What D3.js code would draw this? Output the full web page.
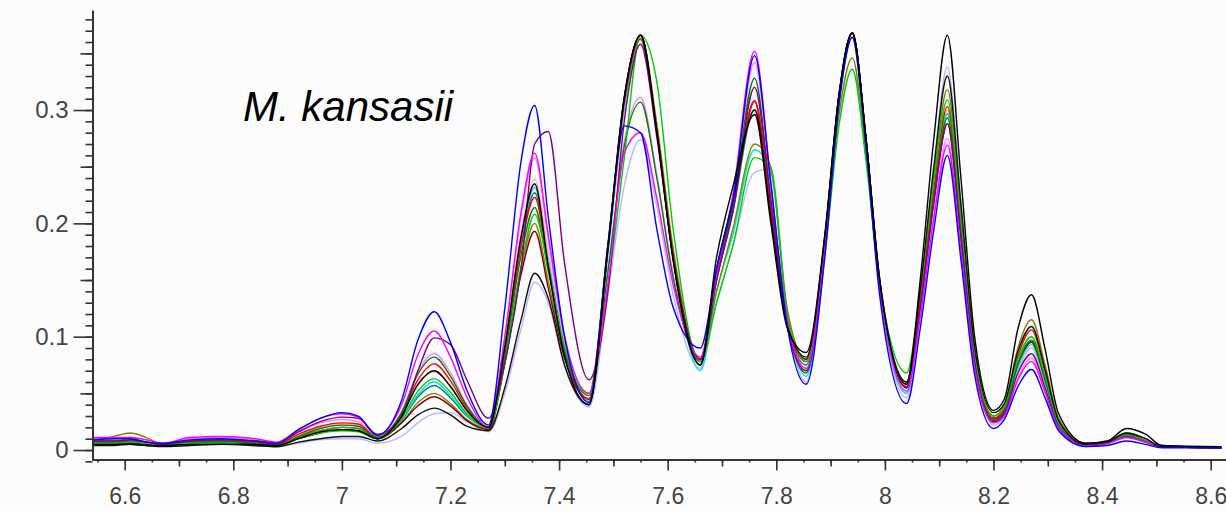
<!DOCTYPE html>
<html>
<head>
<meta charset="utf-8">
<script src="https://cdn.jsdelivr.net/npm/d3@7"></script>
<style>
  body { margin: 0; background: #fcfcfc; }
  svg { display: block; }
</style>
</head>
<body>
<div id="chart"></div>
<script>
// shared chemical shift grid (ppm)
var ppm = [6.54, 6.58, 6.61, 6.64, 6.67, 6.72, 6.78, 6.84, 6.88, 6.92, 6.96, 7.00, 7.03, 7.065,
  7.11, 7.14, 7.17, 7.20, 7.23, 7.27,
  7.30, 7.33, 7.355, 7.38, 7.41, 7.455,
  7.49, 7.52, 7.55, 7.58, 7.61, 7.66,
  7.69, 7.72, 7.76, 7.79, 7.82, 7.855,
  7.89, 7.915, 7.94, 7.965, 7.99, 8.04,
  8.065, 8.09, 8.115, 8.14, 8.165, 8.20,
  8.22, 8.245, 8.27, 8.295, 8.32, 8.37,
  8.41, 8.445, 8.48, 8.51, 8.62];

var lavender = [0.009,0.009,0.008,0.006,0.004,0.005,0.005,0.004,0.003,0.006,0.009,0.010,0.010,0.006,
  0.012,0.024,0.032,0.033,0.025,0.016,
  0.050,0.107,0.148,0.130,0.074,0.038,
  0.138,0.233,0.274,0.215,0.137,0.072,
  0.130,0.180,0.245,0.248,0.120,0.060,
  0.176,0.304,0.364,0.269,0.142,0.046,
  0.134,0.250,0.338,0.218,0.085,0.022,
  0.029,0.070,0.090,0.058,0.020,0.003,
  0.005,0.011,0.007,0.003,0.002];
var salmon = [0.008,0.008,0.008,0.007,0.005,0.008,0.009,0.007,0.005,0.013,0.020,0.023,0.022,0.011,
  0.030,0.057,0.069,0.056,0.034,0.020,
  0.093,0.192,0.239,0.175,0.096,0.050,
  0.184,0.312,0.366,0.282,0.172,0.080,
  0.160,0.220,0.320,0.220,0.115,0.080,
  0.190,0.311,0.368,0.276,0.153,0.060,
  0.132,0.228,0.300,0.197,0.082,0.028,
  0.036,0.079,0.100,0.066,0.024,0.005,
  0.007,0.013,0.008,0.003,0.002];
var violet = [0.010,0.010,0.011,0.009,0.006,0.010,0.011,0.009,0.006,0.016,0.024,0.027,0.025,0.012,
  0.034,0.069,0.085,0.068,0.040,0.020,
  0.099,0.206,0.258,0.186,0.096,0.045,
  0.158,0.272,0.311,0.243,0.155,0.080,
  0.155,0.220,0.342,0.230,0.115,0.070,
  0.184,0.309,0.368,0.273,0.146,0.050,
  0.118,0.208,0.275,0.180,0.074,0.024,
  0.030,0.064,0.081,0.053,0.019,0.004,
  0.006,0.012,0.008,0.004,0.002];
var teal = [0.007,0.006,0.006,0.006,0.005,0.006,0.007,0.005,0.003,0.011,0.017,0.020,0.019,0.011,
  0.026,0.047,0.057,0.046,0.030,0.020,
  0.089,0.182,0.227,0.166,0.089,0.045,
  0.181,0.311,0.366,0.281,0.169,0.075,
  0.150,0.210,0.300,0.215,0.110,0.075,
  0.187,0.310,0.368,0.275,0.149,0.055,
  0.128,0.224,0.297,0.194,0.081,0.027,
  0.034,0.076,0.096,0.062,0.023,0.005,
  0.007,0.013,0.008,0.003,0.002];
var cyan = [0.007,0.007,0.007,0.006,0.004,0.006,0.007,0.005,0.003,0.011,0.017,0.020,0.019,0.011,
  0.027,0.049,0.060,0.048,0.031,0.020,
  0.090,0.186,0.232,0.168,0.089,0.043,
  0.172,0.301,0.362,0.282,0.170,0.070,
  0.140,0.190,0.265,0.245,0.120,0.065,
  0.179,0.305,0.364,0.270,0.145,0.050,
  0.124,0.223,0.297,0.194,0.079,0.025,
  0.032,0.073,0.093,0.060,0.022,0.004,
  0.006,0.012,0.007,0.003,0.002];
var olive = [0.008,0.012,0.015,0.011,0.005,0.007,0.008,0.006,0.004,0.011,0.017,0.020,0.019,0.010,
  0.024,0.042,0.050,0.041,0.027,0.019,
  0.079,0.160,0.200,0.149,0.086,0.050,
  0.178,0.305,0.366,0.288,0.178,0.080,
  0.140,0.195,0.270,0.250,0.125,0.080,
  0.181,0.294,0.346,0.261,0.146,0.060,
  0.137,0.241,0.318,0.209,0.088,0.030,
  0.040,0.090,0.115,0.075,0.028,0.006,
  0.008,0.015,0.010,0.003,0.002];
var maroon = [0.006,0.006,0.006,0.005,0.004,0.006,0.006,0.005,0.004,0.010,0.015,0.018,0.017,0.010,
  0.024,0.039,0.047,0.039,0.026,0.018,
  0.076,0.155,0.193,0.143,0.081,0.045,
  0.181,0.311,0.366,0.282,0.171,0.078,
  0.155,0.215,0.308,0.210,0.110,0.080,
  0.190,0.311,0.368,0.276,0.151,0.058,
  0.127,0.219,0.288,0.189,0.080,0.028,
  0.035,0.076,0.095,0.062,0.023,0.005,
  0.007,0.014,0.008,0.003,0.002];
var red = [0.008,0.008,0.009,0.007,0.005,0.008,0.009,0.007,0.005,0.014,0.021,0.024,0.023,0.011,
  0.032,0.062,0.076,0.061,0.037,0.020,
  0.087,0.179,0.223,0.163,0.088,0.045,
  0.180,0.308,0.363,0.280,0.172,0.080,
  0.155,0.215,0.308,0.210,0.110,0.078,
  0.189,0.311,0.368,0.275,0.150,0.056,
  0.130,0.229,0.303,0.199,0.083,0.028,
  0.036,0.083,0.106,0.069,0.025,0.005,
  0.007,0.014,0.008,0.003,0.002];
var darkgreen = [0.007,0.007,0.008,0.007,0.005,0.007,0.008,0.006,0.004,0.012,0.019,0.022,0.021,0.011,
  0.033,0.067,0.082,0.065,0.039,0.020,
  0.084,0.172,0.214,0.158,0.088,0.048,
  0.158,0.268,0.307,0.240,0.152,0.078,
  0.150,0.215,0.328,0.220,0.110,0.068,
  0.182,0.309,0.368,0.275,0.149,0.055,
  0.126,0.222,0.293,0.192,0.079,0.026,
  0.034,0.076,0.097,0.063,0.023,0.005,
  0.007,0.014,0.008,0.003,0.002];
var green = [0.006,0.006,0.007,0.006,0.004,0.006,0.006,0.004,0.003,0.010,0.015,0.017,0.016,0.010,
  0.028,0.052,0.063,0.051,0.032,0.020,
  0.077,0.162,0.208,0.161,0.091,0.048,
  0.144,0.258,0.366,0.325,0.195,0.078,
  0.130,0.180,0.258,0.248,0.120,0.078,
  0.175,0.285,0.336,0.256,0.149,0.068,
  0.140,0.237,0.309,0.203,0.086,0.030,
  0.038,0.080,0.100,0.065,0.024,0.005,
  0.007,0.013,0.008,0.003,0.002];
var purple = [0.008,0.008,0.009,0.007,0.005,0.008,0.009,0.008,0.006,0.016,0.025,0.029,0.028,0.014,
  0.029,0.070,0.099,0.093,0.062,0.028,
  0.077,0.160,0.270,0.281,0.165,0.062,
  0.140,0.290,0.358,0.276,0.170,0.080,
  0.150,0.210,0.320,0.220,0.110,0.070,
  0.184,0.309,0.368,0.275,0.149,0.055,
  0.125,0.218,0.288,0.188,0.078,0.025,
  0.032,0.068,0.085,0.055,0.020,0.004,
  0.006,0.012,0.007,0.003,0.002];
var magenta = [0.011,0.011,0.011,0.009,0.006,0.011,0.012,0.010,0.007,0.018,0.028,0.032,0.029,0.013,
  0.040,0.084,0.105,0.082,0.047,0.020,
  0.100,0.210,0.262,0.190,0.101,0.050,
  0.147,0.262,0.280,0.222,0.146,0.082,
  0.155,0.225,0.352,0.235,0.115,0.072,
  0.185,0.310,0.368,0.274,0.147,0.052,
  0.117,0.204,0.269,0.176,0.073,0.024,
  0.030,0.062,0.078,0.051,0.019,0.004,
  0.006,0.011,0.007,0.004,0.002];
var black2 = [0.004,0.004,0.005,0.004,0.003,0.004,0.005,0.004,0.003,0.007,0.010,0.012,0.012,0.008,
  0.019,0.031,0.037,0.031,0.021,0.017,
  0.055,0.115,0.156,0.134,0.075,0.040,
  0.178,0.310,0.366,0.281,0.169,0.075,
  0.160,0.220,0.300,0.205,0.110,0.082,
  0.191,0.312,0.368,0.276,0.153,0.060,
  0.141,0.249,0.330,0.217,0.092,0.033,
  0.041,0.087,0.109,0.071,0.026,0.005,
  0.007,0.015,0.010,0.003,0.002];
var blue = [0.009,0.010,0.010,0.007,0.006,0.009,0.010,0.008,0.006,0.018,0.028,0.033,0.030,0.013,
  0.044,0.097,0.122,0.095,0.053,0.022,
  0.125,0.255,0.304,0.206,0.100,0.042,
  0.181,0.286,0.280,0.195,0.126,0.090,
  0.160,0.220,0.348,0.235,0.110,0.058,
  0.173,0.303,0.364,0.268,0.138,0.041,
  0.107,0.194,0.260,0.168,0.067,0.019,
  0.027,0.056,0.071,0.046,0.017,0.003,
  0.004,0.008,0.005,0.002,0.002];
var black = [0.005,0.005,0.005,0.004,0.004,0.005,0.005,0.005,0.004,0.010,0.016,0.018,0.017,0.010,
  0.030,0.058,0.070,0.056,0.035,0.020,
  0.091,0.188,0.235,0.162,0.083,0.040,
  0.178,0.310,0.366,0.280,0.167,0.075,
  0.170,0.232,0.296,0.200,0.108,0.086,
  0.193,0.312,0.368,0.276,0.151,0.058,
  0.150,0.274,0.366,0.240,0.101,0.035,
  0.045,0.107,0.137,0.089,0.032,0.006,
  0.008,0.019,0.014,0.004,0.003];

var seriesList = [lavender, salmon, violet, teal, cyan, olive, maroon, red, darkgreen, green, purple, magenta, black2, blue, black];
var seriesColors = ["#b8b8ff", "#ffb4b4", "#ff80ff", "#008080", "#00e0e0", "#808000", "#800000", "#ff0000", "#008000", "#00cc00", "#800080", "#ff00ff", "#101010", "#0000ff", "#000000"];

var yMajor = [0, 0.1, 0.2, 0.3];
var yLabels = ["0", "0.1", "0.2", "0.3"];
var xMajor = [6.6, 6.8, 7, 7.2, 7.4, 7.6, 7.8, 8, 8.2, 8.4, 8.6];
var xLabels = ["6.6", "6.8", "7", "7.2", "7.4", "7.6", "7.8", "8", "8.2", "8.4", "8.6"];

var width = 1226, height = 511;

var x = d3.scaleLinear().domain([6.542, 8.628]).range([93.2, 1225.9]);
var y = d3.scaleLinear().domain([-0.0088, 0.388]).range([460, 10.3]);

var svg = d3.select("#chart").append("svg")
    .attr("width", width)
    .attr("height", height);

svg.append("rect")
    .attr("width", width)
    .attr("height", height)
    .attr("fill", "#fcfcfc");

svg.append("clipPath").attr("id", "plot")
  .append("rect")
    .attr("x", 93).attr("y", 0)
    .attr("width", width - 93).attr("height", 460);

// spectra
var line = d3.line()
    .x(function(d, i) { return x(ppm[i]); })
    .y(function(d) { return y(d); })
    .curve(d3.curveMonotoneX);

svg.append("g")
    .attr("clip-path", "url(#plot)")
  .selectAll("path")
    .data(seriesList)
    .enter().append("path")
    .attr("d", line)
    .attr("fill", "none")
    .attr("stroke", function(d, i) { return seriesColors[i]; })
    .attr("stroke-width", 1.4);

// y axis: minor, mid and major ticks
var yMinor = d3.range(-1, 39).map(function(i) { return i / 100; });
var yMid = [0.05, 0.15, 0.25, 0.35];

svg.append("g")
    .attr("transform", "translate(92.5,0)")
    .call(d3.axisLeft(y).tickValues(yMinor).tickSize(7).tickSizeOuter(0).tickFormat(""));
svg.append("g")
    .attr("transform", "translate(92.5,0)")
    .call(d3.axisLeft(y).tickValues(yMid).tickSize(12).tickSizeOuter(0).tickFormat(""));
svg.append("g")
    .attr("class", "lab")
    .attr("transform", "translate(92.5,0)")
    .call(d3.axisLeft(y).tickValues(yMajor).tickSize(19).tickSizeOuter(0).tickPadding(5)
      .tickFormat(function(d, i) { return yLabels[i]; }));

// x axis
var xMinor = d3.range(131, 173).map(function(i) { return i / 20; });
var xMid = d3.range(67, 87, 2).map(function(i) { return i / 10; });

svg.append("g")
    .attr("transform", "translate(0,459.5)")
    .call(d3.axisBottom(x).tickValues(xMinor).tickSize(3).tickSizeOuter(0).tickFormat(""));
svg.append("g")
    .attr("transform", "translate(0,459.5)")
    .call(d3.axisBottom(x).tickValues(xMid).tickSize(7).tickSizeOuter(0).tickFormat(""));
svg.append("g")
    .attr("class", "lab xlab")
    .attr("transform", "translate(0,459.5)")
    .call(d3.axisBottom(x).tickValues(xMajor).tickSize(11).tickSizeOuter(0).tickPadding(17)
      .tickFormat(function(d, i) { return xLabels[i]; }));

svg.selectAll(".domain, .tick line")
    .attr("stroke", "#333")
    .attr("stroke-width", 1.6);

svg.selectAll(".lab text")
    .attr("fill", "#444")
    .style("font-family", "'Liberation Sans', Arial, sans-serif")
    .style("font-size", "24px");

svg.selectAll(".xlab text")
    .style("font-size", "23px");

svg.append("text")
    .attr("x", 243)
    .attr("y", 121)
    .style("font-family", "'Liberation Sans', Arial, sans-serif")
    .style("font-size", "42px")
    .style("font-style", "italic")
    .attr("fill", "#000")
    .text("M. kansasii");
</script>
</body>
</html>
